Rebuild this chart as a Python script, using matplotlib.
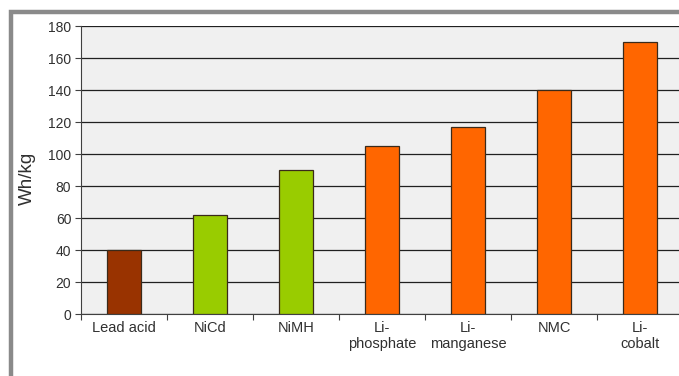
import matplotlib.pyplot as plt
from matplotlib.patches import Rectangle

# battery chemistries and specific energy (Wh/kg)
categories = ['Lead acid', 'NiCd', 'NiMH', 'Li-\nphosphate', 'Li-\nmanganese', 'NMC', 'Li-\ncobalt']
energy = [40, 62, 90, 105, 117, 140, 170]
colors = ['#993300', '#99CC00', '#99CC00', '#FF6600', '#FF6600', '#FF6600', '#FF6600']
yticks = [0, 20, 40, 60, 80, 100, 120, 140, 160, 180]


def main():
    plt.rcParams['font.family'] = ['Liberation Sans', 'DejaVu Sans']

    fig = plt.figure(figsize=(6.79, 3.76), dpi=100)
    W, H = 679.0, 376.0

    # grey outer frame (left and top visible, rest runs off the image)
    frame = Rectangle((10.5 / W, -0.2), 1.2, 1 - 11.5 / H + 0.2, transform=fig.transFigure,
                      fill=False, edgecolor='#8a8a8a', linewidth=3.2, clip_on=False)
    fig.patches.append(frame)

    ax = fig.add_axes([81 / W, 62 / H, 602 / W, 288 / H])
    ax.set_facecolor('#f0f0f0')

    x = list(range(len(categories)))
    ax.bar(x, energy, width=0.4, color=colors, edgecolor='#3a2a1a', linewidth=0.9, zorder=3)

    ax.set_xlim(-0.5, len(categories) - 0.5)
    ax.set_ylim(0, 180)
    ax.set_yticks(yticks)
    ax.yaxis.grid(True, color='#202020', linewidth=0.9, zorder=0)
    ax.set_axisbelow(True)

    # x ticks at category boundaries, labels at centres
    ax.set_xticks([i - 0.5 for i in range(len(categories) + 1)])
    ax.set_xticklabels([])
    ax.set_xticks(x, minor=True)
    ax.set_xticklabels(categories, minor=True, fontsize=10.5, color='#303030', linespacing=1.15)
    ax.tick_params(axis='x', which='minor', length=0, pad=5)
    ax.tick_params(axis='x', which='major', length=4, color='#404040', direction='out')
    ax.tick_params(axis='y', length=4, color='#404040', labelsize=10, labelcolor='#303030', pad=3)

    for side in ['top', 'right']:
        ax.spines[side].set_visible(False)
    ax.spines['left'].set_color('#404040')
    ax.spines['bottom'].set_color('#404040')

    ax.set_ylabel('Wh/kg', fontsize=13.5, color='#303030')
    ax.yaxis.set_label_coords(-0.075, 0.47)

    plt.savefig('out.png', dpi=100)


if __name__ == "__main__":
    main()
